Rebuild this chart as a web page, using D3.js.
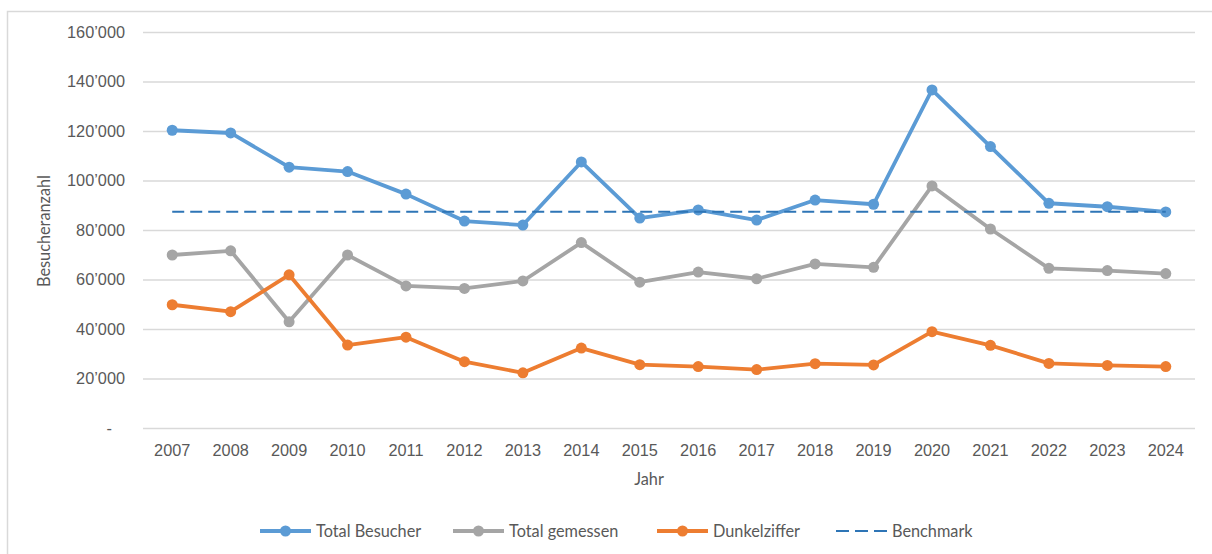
<!DOCTYPE html>
<html>
<head>
<meta charset="utf-8">
<script src="https://cdn.jsdelivr.net/npm/d3@7"></script>
<style>
  body { margin: 0; background: #fff; }
  svg { display: block; font-family: Lato, "Open Sans", sans-serif; }
</style>
</head>
<body>
<script>
// data
const years = ['2007', '2008', '2009', '2010', '2011', '2012', '2013', '2014', '2015',
  '2016', '2017', '2018', '2019', '2020', '2021', '2022', '2023', '2024'];
const totalBesucher = [120300, 119200, 105400, 103600, 94500, 83600, 82000, 107500, 84800,
  88100, 84000, 92100, 90400, 136600, 113700, 90800, 89400, 87300];
const totalGemessen = [69900, 71600, 42900, 69900, 57400, 56400, 59400, 74900, 58900,
  63000, 60300, 66300, 64900, 97800, 80400, 64500, 63600, 62400];
const dunkelziffer = [49800, 47000, 61900, 33500, 36700, 26800, 22300, 32300, 25600,
  24800, 23600, 26000, 25500, 38900, 33400, 26100, 25300, 24800];
const benchmark = years.map(() => 87400);
const yTicks = [0, 20000, 40000, 60000, 80000, 100000, 120000, 140000, 160000];

const width = 1212;
const height = 554;
const margin = { top: 32, right: 17, bottom: 126, left: 143 };
const fontSize = '16.3px';

const series = [
  { name: 'Total Besucher', values: totalBesucher, color: '#5B9BD5', marker: true },
  { name: 'Total gemessen', values: totalGemessen, color: '#A5A5A5', marker: true },
  { name: 'Dunkelziffer', values: dunkelziffer, color: '#ED7D31', marker: true },
  { name: 'Benchmark', values: benchmark, color: '#2E75B6', marker: false, dash: '12,6' }
];

const svg = d3.select('body').append('svg')
  .attr('width', width)
  .attr('height', height);

// chart border (only top and left visible in the frame)
svg.append('rect')
  .attr('x', 7.5).attr('y', 11.5)
  .attr('width', width + 20).attr('height', height + 20)
  .attr('fill', 'none')
  .attr('stroke', '#d9d9d9')
  .attr('stroke-width', 1.5);

const chartWidth = width - margin.left - margin.right;
const chartHeight = height - margin.top - margin.bottom;

const g = svg.append('g')
  .attr('transform', `translate(${margin.left},${margin.top})`);

const x = d3.scaleBand().domain(years).range([0, chartWidth]);
const y = d3.scaleLinear().domain([0, 160000]).range([chartHeight, 0]);

const fmt = (v) => v === 0 ? '-' : d3.format(',')(v).replace(/,/g, '\u2019');

// gridlines
g.append('g')
  .call(d3.axisLeft(y).tickValues(yTicks).tickSize(-chartWidth).tickFormat(''))
  .call((a) => a.select('.domain').remove())
  .call((a) => a.selectAll('line').attr('stroke', '#d9d9d9').attr('stroke-width', 1.3));

// y axis labels
g.append('g')
  .call(d3.axisLeft(y).tickValues(yTicks).tickSize(0).tickPadding(18).tickFormat(fmt))
  .call((a) => a.select('.domain').remove())
  .call((a) => a.selectAll('text')
    .attr('fill', '#595959')
    .style('font-size', fontSize)
    .attr('dx', (d) => d === 0 ? -13 : 0));

// x axis labels
g.append('g')
  .attr('transform', `translate(0,${chartHeight})`)
  .call(d3.axisBottom(x).tickSize(0).tickPadding(16))
  .call((a) => a.select('.domain').remove())
  .call((a) => a.selectAll('text').attr('fill', '#595959').style('font-size', fontSize));

// axis titles
svg.append('text')
  .attr('x', 649).attr('y', 485)
  .attr('text-anchor', 'middle')
  .attr('fill', '#595959')
  .style('font-size', fontSize)
  .text('Jahr');

svg.append('text')
  .attr('transform', 'translate(50,231) rotate(-90)')
  .attr('text-anchor', 'middle')
  .attr('fill', '#595959')
  .style('font-size', fontSize)
  .text('Besucheranzahl');

// lines
const cx = (i) => x(years[i]) + x.bandwidth() / 2;
const line = d3.line()
  .x((d, i) => cx(i))
  .y((d) => y(d));

series.forEach((s) => {
  g.append('path')
    .datum(s.values)
    .attr('fill', 'none')
    .attr('stroke', s.color)
    .attr('stroke-width', s.marker ? 3.8 : 2)
    .attr('stroke-dasharray', s.dash || null)
    .attr('stroke-linejoin', 'round')
    .attr('d', line);
  if (s.marker) {
    g.append('g').selectAll('circle')
      .data(s.values)
      .join('circle')
      .attr('cx', (d, i) => cx(i))
      .attr('cy', (d) => y(d))
      .attr('r', 5.5)
      .attr('fill', s.color);
  }
});

// legend
const legendX = [260, 453, 657, 836];
const legend = svg.append('g').attr('transform', 'translate(0,531)');
series.forEach((s, i) => {
  const lg = legend.append('g').attr('transform', `translate(${legendX[i]},0)`);
  lg.append('line')
    .attr('x1', 0).attr('x2', 51)
    .attr('stroke', s.color)
    .attr('stroke-width', s.marker ? 3.8 : 2)
    .attr('stroke-dasharray', s.dash ? '13,6' : null);
  if (s.marker) {
    lg.append('circle').attr('cx', 25.5).attr('r', 5.5).attr('fill', s.color);
  }
  lg.append('text')
    .attr('x', 56).attr('y', 6)
    .attr('fill', '#595959')
    .style('font-size', fontSize)
    .text(s.name);
});
</script>
</body>
</html>
